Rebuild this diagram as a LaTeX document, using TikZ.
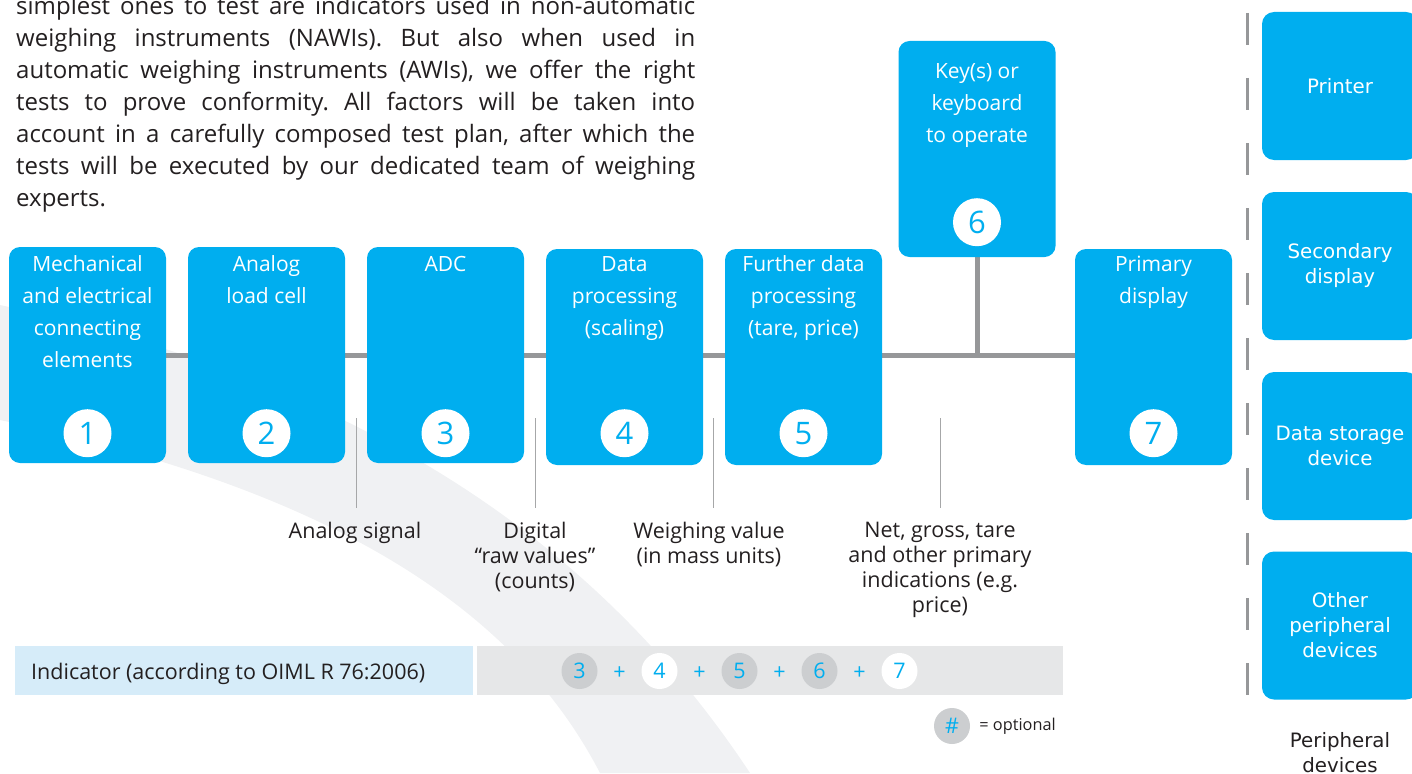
\documentclass[tikz,border=0pt]{standalone}
\usepackage{fontspec}
\setmainfont{Open Sans}
\newfontfamily\perifont{DejaVu Sans}
\usepackage{xcolor}
\definecolor{oimlblue}{RGB}{0, 174, 239}
\definecolor{oimlgray}{RGB}{150, 151, 153}
\definecolor{oimltext}{RGB}{35, 31, 32}
\definecolor{oimlpale}{RGB}{214, 236, 249}
\definecolor{oimllight}{RGB}{230, 231, 232}
\definecolor{oimlopt}{RGB}{204, 206, 208}
\definecolor{oimlswoosh}{RGB}{240, 241, 243}
\usetikzlibrary{positioning,backgrounds}

\begin{document}
\begin{tikzpicture}[x=1pt, y=-1pt, every node/.style={font=\fontsize{21.5}{25}\selectfont, text=oimltext}]
    % Define styles
    \tikzstyle{module} = [rectangle, fill=oimlblue, rounded corners=11pt, minimum width=157pt, minimum height=216pt, inner sep=0pt]
    \tikzstyle{modtext} = [align=center, text=white, inner sep=0pt, anchor=north, font=\fontsize{21}{32}\selectfont]
    \tikzstyle{num} = [circle, fill=white, text=oimlblue, minimum size=48pt, inner sep=0pt, font=\fontsize{31}{31}\selectfont]
    \tikzstyle{signal} = [align=center, inner xsep=0pt, inner ysep=14pt, anchor=north]
    \tikzstyle{periph} = [rectangle, fill=oimlblue, rounded corners=12pt, minimum width=156pt, minimum height=148pt,
                          inner sep=0pt, align=center, text=white, font=\perifont\fontsize{19.8}{25}\selectfont]
    \tikzstyle{opt} = [circle, fill=oimlopt, text=oimlblue, minimum size=36pt, inner sep=0pt]
    \tikzstyle{req} = [circle, fill=white, text=oimlblue, minimum size=36pt, inner sep=0pt]
    \tikzstyle{plus} = [text=oimlblue, inner sep=0pt]
    \tikzstyle{bus} = [line width=5pt, oimlgray]
    \tikzstyle{tap} = [line width=0.9pt, oimlgray!85]

    \useasboundingbox (0,0) rectangle (1412,773);
    \clip (0,0) rectangle (1412,773);

    % Intro text
    \node[anchor=north west, inner sep=0pt, text width=679pt, align=justify, font=\fontsize{24}{32}\selectfont] (intro) at (16,-4.2) {%
        \frenchspacing\parindent=0pt\tolerance=10000\hyphenpenalty=10000\parfillskip=0pt\relax
        simplest ones to test are indicators used in non-automatic\par
        weighing instruments (NAWIs). But also when used in\par
        automatic weighing instruments (AWIs), we offer the right\par
        tests to prove conformity. All factors will be taken into\par
        account in a carefully composed test plan, after which the\par
        tests will be executed by our dedicated team of weighing\par
        \parfillskip=0pt plus 1fil\relax experts.};

    % Indicator modules
    \node[module] (m1) at (87.5,355) {};
    \node[module] (m2) at (266.5,355) {};
    \node[module] (m3) at (445.5,355) {};
    \node[module] (m4) at (624.5,357) {};
    \node[module] (m5) at (803.5,357) {};
    \node[module] (m6) at (977,149) {};
    \node[module] (m7) at (1153.5,357) {};

    \node[modtext] (t1) at ([yshift=-8.6pt]m1.north) {Mechanical\\and electrical\\connecting\\elements};
    \node[modtext] (t2) at ([yshift=-8.6pt]m2.north) {Analog\\load cell};
    \node[modtext] (t3) at ([yshift=-9.6pt]m3.north) {ADC};
    \node[modtext] (t4) at ([yshift=-7.1pt]m4.north) {Data\\processing\\(scaling)};
    \node[modtext] (t5) at ([yshift=-6.6pt]m5.north) {Further data\\processing\\(tare, price)};
    \node[modtext] (t6) at ([yshift=-22.6pt]m6.north) {Key(s) or\\keyboard\\to operate};
    \node[modtext] (t7) at ([yshift=-7.1pt]m7.north) {Primary\\display};

    \node[num] (n1) at ([yshift=30pt]m1.south) {1};
    \node[num] (n2) at ([yshift=30pt]m2.south) {2};
    \node[num] (n3) at ([yshift=30pt]m3.south) {3};
    \node[num] (n4) at ([yshift=32pt]m4.south) {4};
    \node[num] (n5) at ([yshift=32pt]m5.south) {5};
    \node[num] (n6) at ([yshift=35pt]m6.south) {6};
    \node[num] (n7) at ([yshift=32pt]m7.south) {7};

    % Swoosh and bus behind the modules
    \begin{scope}[on background layer]
        \fill[oimlswoosh] (0,305) .. controls (300,370) and (570,500) .. (750,773)
            -- (600,773) .. controls (500,580) and (280,480) .. (0,420) -- cycle;
        \draw[bus] (m1.east) -- (m1.east -| m7.west);
        \draw[bus] (m6.south) -- (m6.south |- m1.east);
    \end{scope}

    % Signals between modules
    \node[signal] (s1) at (355,508) {Analog signal};
    \node[signal] (s2) at (535,508) {Digital\\“raw values”\\(counts)};
    \node[signal] (s3) at (709,508) {Weighing value\\(in mass units)};
    \node[signal] (s4) at (940,508) {Net, gross, tare\\and other primary\\indications (e.g.\\price)};

    \coordinate (c1) at (356,418);
    \coordinate (c2) at (535,418);
    \coordinate (c3) at (713,418);
    \coordinate (c4) at (940,418);
    \draw[tap] (c1) -- (c1 |- s1.north);
    \draw[tap] (c2) -- (c2 |- s2.north);
    \draw[tap] (c3) -- (c3 |- s3.north);
    \draw[tap] (c4) -- (c4 |- s4.north);

    % Peripheral devices
    \draw[line width=3pt, oimlgray, dash pattern=on 32pt off 33pt] (1247,13) -- (1247,700);
    \node[periph] (p1) at (1340,86) {Printer};
    \node[periph] (p2) at (1340,266) {Secondary\\display};
    \node[periph] (p3) at (1340,446) {Data storage\\device};
    \node[periph] (p4) at (1340,625.5) {Other\\peripheral\\devices};
    \node[align=center, font=\perifont\fontsize{19.8}{25}\selectfont] (plabel) at (1340,753) {Peripheral\\devices};

    % Legend bar
    \node[rectangle, fill=oimlpale, minimum width=458pt, minimum height=49pt, inner sep=0pt, anchor=west] (ind) at (15,670.5) {};
    \node[anchor=base west, inner sep=0pt] (indtext) at (31,679.5) {Indicator (according to OIML R 76:2006)};
    \node[rectangle, fill=oimllight, minimum width=586pt, minimum height=49pt, inner sep=0pt, anchor=west] (combo) at (477,670.5) {};

    \node[opt] (o3) at (579.5,671) {3};
    \node[plus] (a1) at (619.5,673) {+};
    \node[req] (o4) at (659.5,671) {4};
    \node[plus] (a2) at (699.5,673) {+};
    \node[opt] (o5) at (739.5,671) {5};
    \node[plus] (a3) at (779.5,673) {+};
    \node[opt] (o6) at (819.5,671) {6};
    \node[plus] (a4) at (859.5,673) {+};
    \node[req] (o7) at (899.5,671) {7};

    \node[opt] (hash) at (952,726) {\#};
    \node[anchor=west, inner sep=0pt, font=\fontsize{16.3}{18}\selectfont] (optlabel) at ([xshift=9pt]hash.east) {= optional};
\end{tikzpicture}
\end{document}
